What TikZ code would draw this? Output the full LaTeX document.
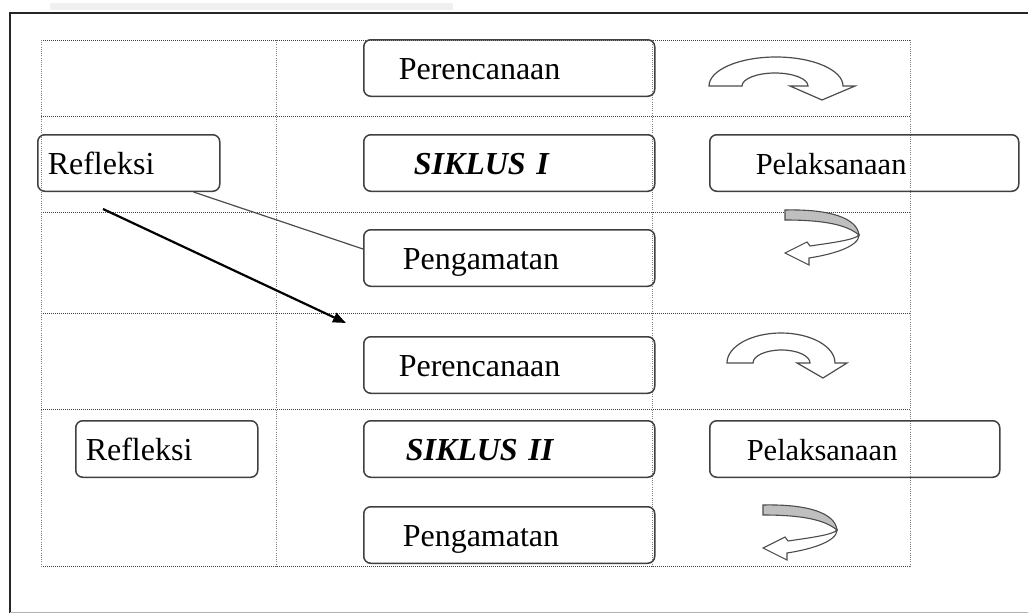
\documentclass[tikz,border=0pt]{standalone}
\usepackage{fontspec}
\setmainfont{Liberation Serif}
\usetikzlibrary{arrows.meta}
\begin{document}
\begin{tikzpicture}[x=1pt,y=-1pt,
  hgrid/.style={black!75, line width=1pt, dash pattern=on 1pt off 1pt},
  vgrid/.style={black!50, line width=0.9pt, dash pattern=on 1pt off 1.2pt},
  rbox/.style={draw=black!75, line width=1.5pt, rounded corners=7pt, anchor=north west,
    align=left, minimum height=56.5pt, inner ysep=0pt, text height=22pt, text depth=0pt,
    font=\fontsize{32}{38}\selectfont},
  barrow/.style={draw=black!70, line width=1.2pt, fill=white},
  twist/.pic={
    \draw[black!70, line width=1.1pt, fill=black!25] (0,0) .. controls (45,-1) and (72,8) .. (74,25)
      .. controls (62,15) and (40,10) .. (0,10) -- cycle;
    \draw[black!70, line width=1.1pt, fill=white] (74,25) .. controls (70,30) and (45,33) .. (25,36)
      -- (22,32) -- (0,43) -- (24,55) -- (24,48) .. controls (50,44) and (74,36) .. (74,25) -- cycle;
  }
]
\useasboundingbox (0,0) rectangle (1028,613);
\fill[white] (0,0) rectangle (1028,613);
% faint strip and frame
\fill[black!6] (50,3) rectangle (453,10);
\draw[black!85, line width=2.5pt] (10,613) -- (10,13) -- (1028,13);
\draw[black!30, line width=1pt] (10,612) -- (1028,612);

% dotted grid
\foreach \yy in {40,116,212,313,409,566}
  \draw[hgrid] (41,\yy) -- (910,\yy);
\foreach \xx in {41,276,652,910}
  \draw[vgrid] (\xx,40) -- (\xx,566);

% boxes
\node[rbox, inner xsep=35pt, text width=221pt] (per1) at (363,39) {Perencanaan};
\node[rbox, inner xsep=50pt, text width=191pt] (sik1) at (363,134) {\textbf{\textit{SIKLUS I}}};
\node[rbox, inner xsep=39pt, text width=213pt] (pen1) at (363,229) {Pengamatan};
\node[rbox, inner xsep=10pt, text width=162pt] (ref1) at (37,134) {Refleksi};
\node[rbox, inner xsep=46pt, text width=217pt, font=\fontsize{30.5}{36}\selectfont] (pel1) at (709,134) {Pelaksanaan};
\node[rbox, inner xsep=35pt, text width=221pt] (per2) at (363,336) {Perencanaan};
\node[rbox, inner xsep=42pt, text width=207pt] (sik2) at (363,420) {\textbf{\textit{SIKLUS II}}};
\node[rbox, inner xsep=39pt, text width=213pt] (pen2) at (363,506) {Pengamatan};
\node[rbox, inner xsep=10pt, text width=162pt] (ref2) at (75,420) {Refleksi};
\node[rbox, inner xsep=37pt, text width=216pt, font=\fontsize{30.5}{36}\selectfont] (pel2) at (709,420) {Pelaksanaan};

% connectors
\draw[black!70, line width=1.2pt] ([xshift=-27pt]ref1.south east) -- ([yshift=9pt]pen1.west);
\coordinate (a1) at (103,209);
\coordinate (a2) at (346,323);
\draw[black, line width=2.2pt, -{Triangle[length=13pt,width=10pt]}] (a1) -- (a2);

% curved block arrows
\draw[barrow] (709,86) arc[start angle=180,end angle=360,x radius=67,y radius=29]
  -- (855,86) -- (822,100) -- (790,86) -- (808,86)
  arc[start angle=0,end angle=-180,x radius=33,y radius=13] -- cycle;
\draw[barrow] (727,363) arc[start angle=180,end angle=360,x radius=54,y radius=30]
  -- (847,363) -- (823,378) -- (797,363) -- (810,363)
  arc[start angle=0,end angle=-180,x radius=28.5,y radius=13] -- cycle;
\pic at (785,210) {twist};
\pic at (763,505) {twist};
\end{tikzpicture}
\end{document}
